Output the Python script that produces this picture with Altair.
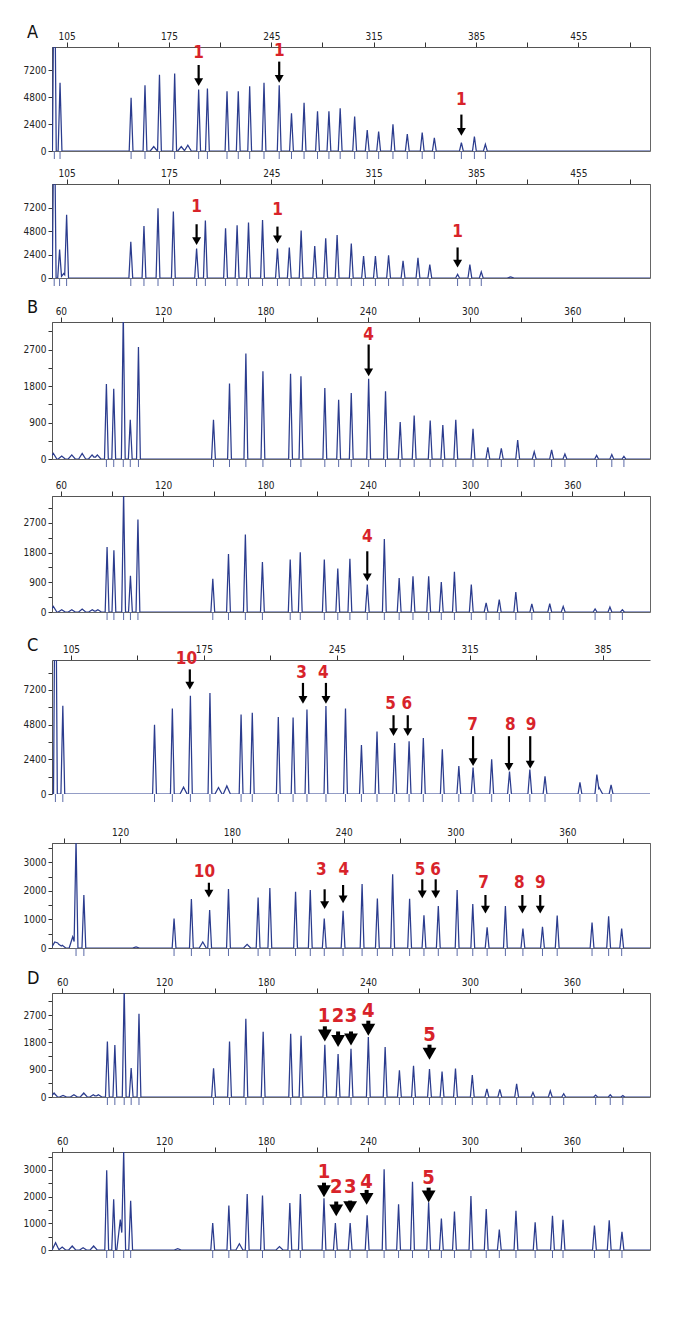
import altair as alt
import pandas as pd

TRACE_COLOR = "#2b3c8e"
TICK_COLOR = "#5b6aa6"
RED = "#d8232a"
FONT = "Liberation Sans Narrow, DejaVu Sans Condensed, Roboto, sans-serif"
PLOT_W = 598

# ---------------- Panel A ----------------
A_XDOM = [95, 504]
A_XTICKS = [105, 140, 175, 210, 245, 280, 315, 350, 385, 420, 455, 490]
A_XLABELS = [105, 175, 245, 315, 385, 455]
A_YTICKS = [0, 2400, 4800, 7200]
A_YLABELS = [0, 2400, 4800, 7200]

A1_X = [96.6, 100.5, 149.1, 158.6, 168.5, 178.9, 195.3, 201.3, 214.7, 222.4, 230.2, 240.0, 250.4, 258.8,
        267.4, 276.6, 284.4, 292.1, 302.0, 310.6, 318.4, 328.2, 338.0, 348.2, 356.5, 375.0, 383.9, 391.4]
A1_H = [20000, 6060, 4740, 5850, 6780, 6900, 5460, 5550, 5310, 5310, 5760, 6060, 5850, 3360,
        4290, 3540, 3540, 3810, 3060, 1860, 1740, 2370, 1500, 1650, 1170, 750, 1290, 600]
A1_BX = [164.6, 183.4, 187.9]
A1_BH = [390, 390, 510]
A1_ARR_X = [195.3, 250.4, 375.0]
A1_ARR_LABEL = ["1", "1", "1"]
A1_ARR_TEXT_X = [195.3, 250.4, 375.0]
A1_ARR_TEXT_Y = [8700, 8850, 4500]
A1_ARR_TAIL = [7650, 7950, 3240]
A1_ARR_TIP = [5760, 6050, 1350]

A2_X = [96.5, 100.2, 105.0, 148.9, 157.9, 167.5, 178.0, 193.9, 199.9, 213.7, 221.6, 229.4, 239.0, 249.2,
        257.3, 265.4, 274.7, 282.2, 290.0, 299.7, 308.1, 316.2, 325.2, 335.1, 345.3, 353.4, 372.4, 380.8, 388.6]
A2_H = [20000, 2915, 6450, 3700, 5320, 7130, 6790, 3020, 5870, 5080, 5390, 5660, 5930, 3020,
        3120, 4840, 3260, 4050, 4390, 3530, 2230, 2230, 2330, 1750, 2060, 1370, 380, 1370, 620]
A2_BX = [103.0, 408.7]
A2_BH = [450, 100]
A2_ARR_X = [193.9, 249.2, 372.4]
A2_ARR_LABEL = ["1", "1", "1"]
A2_ARR_TEXT_X = [193.9, 249.2, 372.4]
A2_ARR_TEXT_Y = [7300, 6960, 4730]
A2_ARR_TAIL = [5490, 5250, 3120]
A2_ARR_TIP = [3360, 3530, 1060]

# ---------------- Panel B ----------------
B_XDOM = [54.8, 405.5]
B_XTICKS = [60, 90, 120, 150, 180, 210, 240, 270, 300, 330, 360, 390]
B_XLABELS = [60, 120, 180, 240, 300, 360]
B_YTICKS = [0, 450, 900, 1350, 1800, 2250, 2700, 3150]
B_YLABELS = [0, 900, 1800, 2700]

B1_X = [86.7, 91.0, 96.6, 100.7, 105.5, 149.5, 158.9, 168.5, 178.5, 194.7, 200.8, 214.8, 222.9, 230.3,
        240.5, 250.4, 259.0, 267.2, 276.6, 284.0, 291.6, 301.7, 310.4, 318.3, 327.9, 337.6, 347.8, 355.6,
        374.2, 383.1, 390.2]
B1_H = [1850, 1735, 3600, 966, 2760, 966, 1860, 2600, 2165, 2105, 2040, 1750, 1460, 1630,
        1980, 1670, 910, 1075, 950, 840, 966, 745, 290, 265, 470, 180, 225, 125,
        90, 110, 65]
B1_BX = [55.6, 60.5, 66.4, 72.5, 78.3, 81.4]
B1_BH = [140, 75, 100, 140, 100, 100]
B1_ARR_X = [240.5]
B1_ARR_LABEL = ["4"]
B1_ARR_TEXT_X = [240.5]
B1_ARR_TEXT_Y = [3070]
B1_ARR_TAIL = [2825]
B1_ARR_TIP = [2040]

B2_X = [87.1, 91.1, 96.8, 100.8, 105.2, 149.1, 158.3, 168.2, 178.2, 194.5, 200.4, 214.5, 222.4, 229.5,
        239.7, 249.7, 258.4, 266.5, 275.7, 283.1, 290.8, 300.7, 309.4, 317.1, 326.8, 336.2, 346.7, 354.6,
        373.3, 382.0, 389.3]
B2_H = [1970, 1870, 3600, 1100, 2800, 1010, 1760, 2345, 1515, 1590, 1810, 1590, 1315, 1610,
        830, 2215, 1030, 1080, 1080, 910, 1215, 830, 275, 375, 605, 245, 250, 170,
        90, 150, 70]
B2_BX = [55.6, 60.5, 66.4, 72.5, 78.4, 81.7]
B2_BH = [170, 70, 70, 90, 70, 70]
B2_ARR_X = [239.7]
B2_ARR_LABEL = ["4"]
B2_ARR_TEXT_X = [239.7]
B2_ARR_TEXT_Y = [2275]
B2_ARR_TAIL = [1840]
B2_ARR_TIP = [930]

# ---------------- Panel C ----------------
C1_XDOM = [95, 410]
C1_XTICKS = [105, 140, 175, 210, 245, 280, 315, 350, 385]
C1_XLABELS = [105, 175, 245, 315, 385]
C1_YTICKS = [0, 1200, 2400, 3600, 4800, 6000, 7200, 8400]
C1_YLABELS = [0, 2400, 4800, 7200]

C1_X = [96.8, 100.7, 149.0, 158.4, 167.9, 178.2, 194.6, 200.5, 214.2, 222.0, 229.3, 239.3, 249.6, 258.0,
        266.2, 275.5, 283.1, 290.6, 300.6, 309.3, 316.8, 326.6, 336.0, 346.7, 354.7, 373.1, 382.0, 389.5]
C1_H = [20000, 6110, 4790, 5920, 6790, 6980, 5500, 5620, 5330, 5290, 5850, 6090, 5920, 3380,
        4320, 3525, 3640, 3880, 3100, 1930, 1830, 2400, 1550, 1690, 1220, 800, 1340, 635]
C1_BX = [164.3, 182.7, 187.1, 383.2]
C1_BH = [470, 450, 560, 450]
C1_ARR_X = [167.6, 227.2, 239.3, 274.9, 282.4, 316.8, 335.7, 346.9]
C1_ARR_LABEL = ["10", "3", "4", "5", "6", "7", "8", "9"]
C1_ARR_TEXT_X = [165.8, 226.5, 237.9, 273.3, 281.9, 316.6, 336.4, 347.4]
C1_ARR_TEXT_Y = [9330, 8390, 8390, 6200, 6200, 4750, 4750, 4750]
C1_ARR_TAIL = [8620, 7685, 7685, 5450, 5450, 4000, 4000, 4000]
C1_ARR_TIP = [7215, 6230, 6230, 4000, 4000, 1930, 1600, 1750]

C2_XDOM = [83.5, 404.4]
C2_XTICKS = [90, 120, 150, 180, 210, 240, 270, 300, 330, 360, 390]
C2_XLABELS = [120, 180, 240, 300, 360]
C2_YTICKS = [0, 500, 1000, 1500, 2000, 2500, 3000, 3500]
C2_YLABELS = [0, 1000, 2000, 3000]

C2_X = [96.4, 100.6, 149.0, 158.3, 168.1, 178.2, 194.1, 200.4, 214.2, 222.1, 229.6, 239.7, 249.9, 258.1,
        266.3, 275.4, 283.1, 290.8, 300.9, 309.3, 317.0, 326.8, 336.2, 346.7, 354.6, 373.3, 382.2, 389.2]
C2_H = [3800, 1860, 1035, 1715, 1330, 2070, 1775, 2105, 1975, 2035, 1035, 1305, 2245, 1740,
        2590, 1730, 1150, 1470, 2035, 1540, 730, 1470, 680, 740, 1140, 895, 1115, 680]
C2_BX = [85.0, 86.6, 89.0, 94.6, 128.6, 164.4, 188.2]
C2_BH = [210, 175, 95, 390, 35, 210, 130]
C2_ARR_X = [167.7, 229.8, 239.7, 282.2, 289.4, 316.1, 335.9, 345.5]
C2_ARR_LABEL = ["10", "3", "4", "5", "6", "7", "8", "9"]
C2_ARR_TEXT_X = [165.3, 228.0, 240.1, 281.0, 289.4, 315.1, 334.3, 345.5]
C2_ARR_TEXT_Y = [2680, 2740, 2740, 2740, 2740, 2270, 2270, 2270]
C2_ARR_TAIL = [2290, 2060, 2210, 2410, 2410, 1860, 1860, 1860]
C2_ARR_TIP = [1765, 1365, 1565, 1740, 1740, 1210, 1210, 1210]

# ---------------- Panel D ----------------
D_XDOM = [54.0, 406.0]
D_XTICKS = [60, 90, 120, 150, 180, 210, 240, 270, 300, 330, 360, 390]
D_XLABELS = [60, 120, 180, 240, 300, 360]
D1_YTICKS = [0, 450, 900, 1350, 1800, 2250, 2700, 3150]
D1_YLABELS = [0, 900, 1800, 2700]
D2_YTICKS = [0, 500, 1000, 1500, 2000, 2500, 3000, 3500]
D2_YLABELS = [0, 1000, 2000, 3000]

D1_X = [86.6, 91.0, 96.5, 100.6, 105.2, 149.1, 158.5, 168.1, 178.3, 194.5, 200.6, 214.6, 222.4, 230.0,
        240.2, 250.1, 258.5, 266.8, 276.2, 283.6, 291.5, 301.4, 310.0, 317.6, 327.5, 337.1, 347.3, 355.2,
        374.0, 382.6, 390.0]
D1_H = [1830, 1710, 3600, 955, 2745, 945, 1830, 2580, 2150, 2085, 2020, 1720, 1415, 1590,
        1975, 1645, 880, 1030, 920, 835, 935, 725, 265, 250, 430, 155, 200, 110,
        65, 75, 45]
D1_BX = [55.2, 60.5, 66.9, 72.7, 78.3, 81.3]
D1_BH = [130, 55, 75, 130, 75, 75]
D1_ARR_X = [214.6, 222.4, 230.0, 240.2, 276.2]
D1_ARR_LABEL = ["1", "2", "3", "4", "5"]
D1_ARR_TEXT_X = [214.1, 222.4, 230.0, 240.2, 276.2]
D1_ARR_TEXT_Y = [2680, 2655, 2655, 2820, 2055]
D1_ARR_TAIL = [2330, 2160, 2160, 2515, 1725]
D1_ARR_TIP = [1830, 1645, 1700, 2020, 1230]

D2_X = [86.2, 90.3, 96.2, 100.3, 148.6, 158.1, 168.9, 177.9, 194.0, 200.2, 214.1, 220.8, 229.5, 239.5,
        249.5, 258.0, 266.2, 275.7, 283.2, 290.9, 300.6, 309.6, 317.3, 327.1, 338.4, 348.6, 354.8,
        373.3, 382.0, 389.5]
D2_H = [2990, 1900, 3700, 1840, 1010, 1670, 2100, 2040, 1755, 2100, 1940, 1010, 1010, 1300,
        3025, 1715, 2555, 1790, 1175, 1445, 2025, 1530, 765, 1470, 1035, 1285, 1135,
        915, 1110, 680]
D2_BX = [56.1, 60.0, 65.9, 72.3, 78.5, 94.2, 128.0, 164.3, 187.9]
D2_BH = [270, 110, 150, 85, 150, 1140, 50, 235, 125]
D2_ARR_X = [214.1, 221.3, 229.5, 239.2, 275.7]
D2_ARR_LABEL = ["1", "2", "3", "4", "5"]
D2_ARR_TEXT_X = [214.1, 221.3, 229.5, 239.2, 275.7]
D2_ARR_TEXT_Y = [2925, 2370, 2370, 2555, 2680]
D2_ARR_TAIL = [2520, 1815, 1850, 2250, 2335]
D2_ARR_TIP = [1975, 1260, 1380, 1690, 1780]


def trace_df(xs, hs, bxs, bhs, xdom):
    upp = (xdom[1] - xdom[0]) / PLOT_W
    half = 1.9 * upp
    bhalf = 3.5 * upp
    peaks = [(u, h, half) for u, h in zip(xs, hs)] + [(u, h, bhalf) for u, h in zip(bxs, bhs)]
    verts = {xdom[0], xdom[1]}
    for u, h, w in peaks:
        verts.update([u - w, u, u + w])
    verts = sorted(v for v in verts if xdom[0] <= v <= xdom[1])
    rows = []
    for v in verts:
        y = 0.0
        for u, h, w in peaks:
            d = abs(v - u)
            if d < w:
                y = max(y, h * (1 - d / w))
        rows.append({"x": v, "y": y})
    return pd.DataFrame(rows)


def label_expr(labels):
    return "indexof([" + ",".join(str(v) for v in labels) + "], datum.value) >= 0 ? datum.label : ''"


def panel(letter, xs, hs, bxs, bhs, xdom, ydom, xticks, xlabels, yticks, ylabels,
          height, top_ext, box, arr, thick):
    xscale = alt.Scale(domain=xdom, nice=False, zero=False)
    yscale = alt.Scale(domain=ydom, nice=False, zero=False)
    xaxis = alt.Axis(
        orient="top", values=xticks, labelExpr=label_expr(xlabels), format="d",
        title=None, grid=False, tickSize=5, labelPadding=1, minExtent=top_ext, maxExtent=top_ext,
        domainColor="#555", tickColor="#333")
    yaxis = alt.Axis(
        orient="left", values=yticks, labelExpr=label_expr(ylabels), format="d", title=None,
        grid=False, tickSize=4, labelPadding=2, minExtent=38, maxExtent=38,
        domainColor="#555", tickColor="#333")

    def X(f):
        return alt.X(f, scale=xscale, axis=xaxis, title=None)

    def Y(f):
        return alt.Y(f, scale=yscale, axis=yaxis, title=None)

    tdf = trace_df(xs, hs, bxs, bhs, xdom)
    line = alt.Chart(tdf).mark_line(clip=True, color=TRACE_COLOR, strokeWidth=1.25).encode(
        x=X("x:Q"), y=Y("y:Q"))
    pdf = pd.DataFrame({"x": [v for v in xs if xdom[0] <= v <= xdom[1]]})
    pdf["zero"] = 0
    ticks = alt.Chart(pdf).mark_rule(color=TICK_COLOR, strokeWidth=1).encode(
        x=X("x:Q"), y=Y("zero:Q"), y2=alt.value(height + 8))
    ax, al, atx, aty, atail, atip = arr
    adf = pd.DataFrame({"x": ax, "label": al, "tx": atx, "ty": aty, "tail": atail, "tip": atip})
    if thick:
        sw, hsize, hoff, fsize = 4, 190, 6, 20
    else:
        sw, hsize, hoff, fsize = 2.2, 80, 4, 17
    shaft = alt.Chart(adf).mark_rule(color="black", strokeWidth=sw, y2Offset=-hoff).encode(
        x=X("x:Q"), y=Y("tail:Q"), y2="tip:Q")
    head = alt.Chart(adf).mark_point(shape="triangle-down", filled=True, color="black", opacity=1,
                                     size=hsize, yOffset=-hoff, strokeWidth=0).encode(
        x=X("x:Q"), y=Y("tip:Q"))
    txt = alt.Chart(adf).mark_text(font=FONT, fontWeight="bold", fontSize=fsize, color=RED,
                                   baseline="middle", align="center").encode(
        x=X("tx:Q"), y=Y("ty:Q"), text="label:N")
    layers = [line, ticks, shaft, head, txt]
    if letter:
        ldf = pd.DataFrame({"t": [letter]})
        lt = alt.Chart(ldf).mark_text(font=FONT, fontSize=18, color="#111", baseline="middle",
                                      align="left").encode(
            x=alt.value(-25), y=alt.value(-14), text="t:N")
        layers.append(lt)
    view = alt.ViewBackground(stroke="#666" if box else None, strokeWidth=1)
    return alt.layer(*layers).properties(width=PLOT_W, height=height, view=view)


panels = [
    panel("A", A1_X, A1_H, A1_BX, A1_BH, A_XDOM, [0, 9250], A_XTICKS, A_XLABELS, A_YTICKS, A_YLABELS,
          104, 33, True, (A1_ARR_X, A1_ARR_LABEL, A1_ARR_TEXT_X, A1_ARR_TEXT_Y, A1_ARR_TAIL, A1_ARR_TIP), False),
    panel(None, A2_X, A2_H, A2_BX, A2_BH, A_XDOM, [0, 9600], A_XTICKS, A_XLABELS, A_YTICKS, A_YLABELS,
          94, 23, True, (A2_ARR_X, A2_ARR_LABEL, A2_ARR_TEXT_X, A2_ARR_TEXT_Y, A2_ARR_TAIL, A2_ARR_TIP), False),
    panel("B", B1_X, B1_H, B1_BX, B1_BH, B_XDOM, [0, 3380], B_XTICKS, B_XLABELS, B_YTICKS, B_YLABELS,
          137, 34, True, (B1_ARR_X, B1_ARR_LABEL, B1_ARR_TEXT_X, B1_ARR_TEXT_Y, B1_ARR_TAIL, B1_ARR_TIP), False),
    panel(None, B2_X, B2_H, B2_BX, B2_BH, B_XDOM, [0, 3515], B_XTICKS, B_XLABELS, B_YTICKS, B_YLABELS,
          116, 27, True, (B2_ARR_X, B2_ARR_LABEL, B2_ARR_TEXT_X, B2_ARR_TEXT_Y, B2_ARR_TAIL, B2_ARR_TIP), False),
    panel("C", C1_X, C1_H, C1_BX, C1_BH, C1_XDOM, [0, 9270], C1_XTICKS, C1_XLABELS, C1_YTICKS, C1_YLABELS,
          134, 39, False, (C1_ARR_X, C1_ARR_LABEL, C1_ARR_TEXT_X, C1_ARR_TEXT_Y, C1_ARR_TAIL, C1_ARR_TIP), False),
    panel(None, C2_X, C2_H, C2_BX, C2_BH, C2_XDOM, [0, 3684], C2_XTICKS, C2_XLABELS, C2_YTICKS, C2_YLABELS,
          105, 39, True, (C2_ARR_X, C2_ARR_LABEL, C2_ARR_TEXT_X, C2_ARR_TEXT_Y, C2_ARR_TAIL, C2_ARR_TIP), False),
    panel("D", D1_X, D1_H, D1_BX, D1_BH, D_XDOM, [0, 3428], D_XTICKS, D_XLABELS, D1_YTICKS, D1_YLABELS,
          104, 35, True, (D1_ARR_X, D1_ARR_LABEL, D1_ARR_TEXT_X, D1_ARR_TEXT_Y, D1_ARR_TAIL, D1_ARR_TIP), True),
    panel(None, D2_X, D2_H, D2_BX, D2_BH, D_XDOM, [0, 3670], D_XTICKS, D_XLABELS, D2_YTICKS, D2_YLABELS,
          98, 45, True, (D2_ARR_X, D2_ARR_LABEL, D2_ARR_TEXT_X, D2_ARR_TEXT_Y, D2_ARR_TAIL, D2_ARR_TIP), True),
]

chart = alt.vconcat(*panels, spacing=0).configure_axis(
    labelFont=FONT, labelFontSize=10, labelColor="#222"
).configure_view(strokeWidth=1)

chart.save("out.html", embed_options={"renderer": "svg", "actions": False})
